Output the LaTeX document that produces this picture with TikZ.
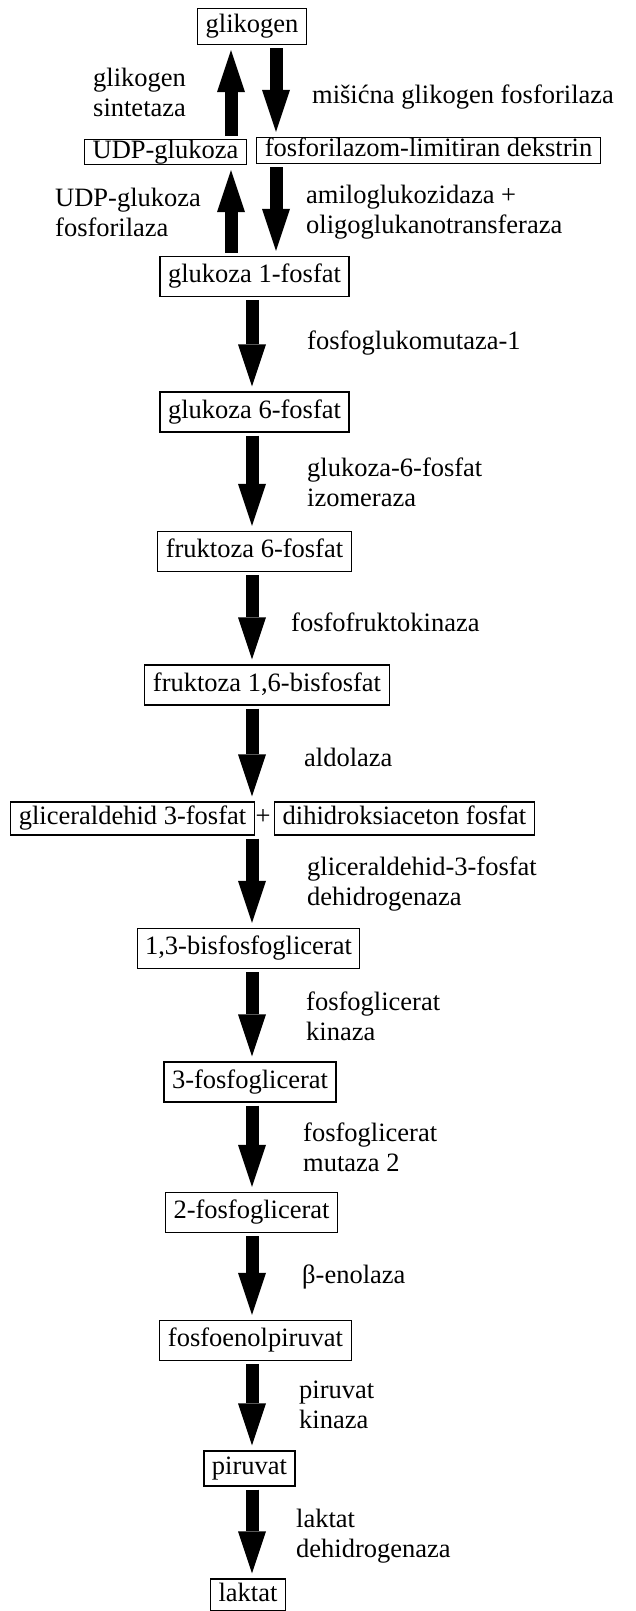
\documentclass[tikz,border=0pt]{standalone}
\usepackage{fontspec}
\setmainfont{Liberation Serif}
\usetikzlibrary{arrows.meta,positioning}

\tikzset{
  box/.style={draw, line width=1.1pt, inner xsep=8pt, inner ysep=8pt, text height=18pt, text depth=6pt},
  flowarrow/.style={line width=13pt, -{Triangle[width=28pt,length=42pt,line width=0pt]}, shorten <=3pt, shorten >=5pt},
  enzyme/.style={anchor=west, align=left, inner sep=0pt}
}

\begin{document}
\begin{tikzpicture}[x=1pt,y=-1pt,font=\fontsize{26.5}{30}\selectfont]
\useasboundingbox (0,0) rectangle (636,1611);

%Arrow columns
\coordinate (upcol) at (231,0);
\coordinate (dncol) at (276,0);
\coordinate (col) at (252,0);

%Metabolites
\node[box,inner ysep=6pt] (glikogen) at (252,26.5) {glikogen};
\node[box,inner ysep=0.5pt] (udp) at (165.5,152) {UDP-glukoza};
\node[box,inner ysep=1pt] (dekstrin) at (428.5,150.5) {fosforilazom-limitiran dekstrin};
\node[box] (g1p) at (254.5,276.5) {glukoza 1-fosfat};
\node[box] (g6p) at (254.5,412) {glukoza 6-fosfat};
\node[box] (f6p) at (254.5,551.5) {fruktoza 6-fosfat};
\node[box] (f16bp) at (267,685) {fruktoza 1,6-bisfosfat};
\node[box,inner ysep=4.5pt] (gap) at (132.5,818.5) {gliceraldehid 3-fosfat};
\node (plus) at (263,817) {+};
\node[box,inner ysep=4.5pt] (dhap) at (404.5,818.5) {dihidroksiaceton fosfat};
\node[box] (bpg) at (248.5,948.5) {1,3-bisfosfoglicerat};
\node[box] (pg3) at (250,1082) {3-fosfoglicerat};
\node[box] (pg2) at (251.5,1212.5) {2-fosfoglicerat};
\node[box] (pep) at (255.5,1340.5) {fosfoenolpiruvat};
\node[box,inner ysep=5.5pt] (piruvat) at (249.5,1468.5) {piruvat};
\node[box,inner ysep=4pt] (laktat) at (248,1595) {laktat};

%Enzymes
\node[enzyme] (lsyn) at (93,92) {glikogen\\sintetaza};
\node[enzyme] (lmis) at (312,97) {mišićna glikogen fosforilaza};
\node[enzyme] (ludp) at (55,212) {UDP-glukoza\\fosforilaza};
\node[enzyme] (lamilo) at (306,212) {amiloglukozidaza +\\oligoglukanotransferaza};
\node[enzyme] (lpgm) at (307,343) {fosfoglukomutaza-1};
\node[enzyme] (lgpi) at (307,482) {glukoza-6-fosfat\\izomeraza};
\node[enzyme] (lpfk) at (291,622) {fosfofruktokinaza};
\node[enzyme] (lald) at (304,757) {aldolaza};
\node[enzyme] (lgapdh) at (307,884) {gliceraldehid-3-fosfat\\dehidrogenaza};
\node[enzyme] (lpgk) at (306,1016) {fosfoglicerat\\kinaza};
\node[enzyme] (lpgam) at (303,1147) {fosfoglicerat\\mutaza 2};
\node[enzyme] (leno) at (302,1277) {β-enolaza};
\node[enzyme] (lpk) at (299,1405) {piruvat\\kinaza};
\node[enzyme] (lldh) at (296,1536) {laktat\\dehidrogenaza};

%Glycogen branch
\draw[flowarrow] (udp.north -| upcol) -- (glikogen.south -| upcol);
\draw[flowarrow] (g1p.north -| upcol) -- (udp.south -| upcol);
\draw[flowarrow] (glikogen.south -| dncol) -- (dekstrin.north -| dncol);
\draw[flowarrow] (dekstrin.south -| dncol) -- (g1p.north -| dncol);

%Main pathway
\draw[flowarrow] (g1p.south -| col) -- (g6p.north -| col);
\draw[flowarrow] (g6p.south -| col) -- (f6p.north -| col);
\draw[flowarrow] (f6p.south -| col) -- (f16bp.north -| col);
\draw[flowarrow] (f16bp.south -| col) -- (gap.north -| col);
\draw[flowarrow] (gap.south -| col) -- (bpg.north -| col);
\draw[flowarrow] (bpg.south -| col) -- (pg3.north -| col);
\draw[flowarrow] (pg3.south -| col) -- (pg2.north -| col);
\draw[flowarrow] (pg2.south -| col) -- (pep.north -| col);
\draw[flowarrow] (pep.south -| col) -- (piruvat.north -| col);
\draw[flowarrow] (piruvat.south -| col) -- (laktat.north -| col);

\end{tikzpicture}
\end{document}
